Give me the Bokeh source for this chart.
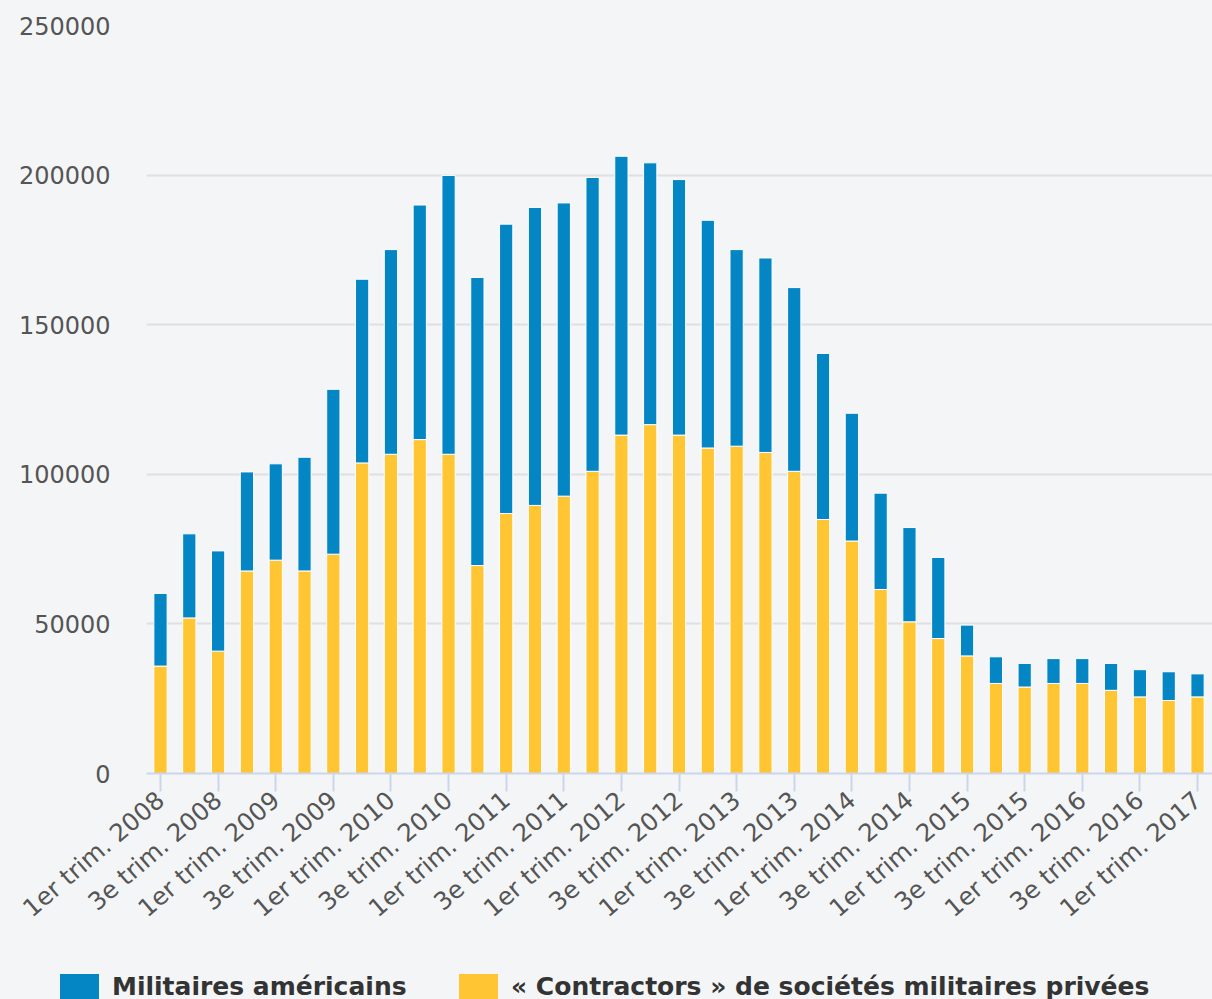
from bokeh.plotting import figure
from bokeh.layouts import column
from bokeh.models import (ColumnDataSource, Range1d, FixedTicker, NumeralTickFormatter, Div)
from bokeh.embed import file_html
from bokeh.resources import INLINE

quarters = []
for yr in range(2008, 2018):
    for q in ["1er", "2e", "3e", "4e"]:
        quarters.append(f"{q} trim. {yr}")
quarters = quarters[:37]

contractors = [35900, 52000, 40900, 67700, 71300, 67700, 73300, 103800, 106700, 111600,
               106700, 69500, 86900, 89600, 92700, 101000, 113100, 116600, 113100, 108800,
               109400, 107300, 101000, 84900, 77700, 61500, 50700, 45100, 39300, 30100,
               28900, 30100, 30100, 27800, 25600, 24400, 25600]

military = [24300, 28100, 33500, 33100, 32200, 38000, 55100, 61400, 68400, 78400,
            93200, 96300, 96700, 99600, 98000, 98200, 93200, 87500, 85400, 76100,
            65700, 65000, 61400, 55500, 42700, 32200, 31500, 27100, 10300, 8900,
            7900, 8300, 8300, 9000, 9100, 9600, 7700]

y_ticks = [0, 50000, 100000, 150000, 200000, 250000]

series_names = ["Militaires américains", "« Contractors » de sociétés militaires privées"]

BLUE = "#0485c4"
YELLOW = "#ffc533"
BG = "#f4f5f7"
FONT = "DejaVu Sans"
W = 1212

source = ColumnDataSource(dict(x=list(range(len(quarters))), label=quarters,
                               contractors=contractors, military=military))

p = figure(width=W, height=959, output_backend="svg", toolbar_location=None,
           x_range=Range1d(-0.486, 36.52), y_range=Range1d(0, 250000),
           min_border_left=146, min_border_right=0, min_border_top=25, min_border_bottom=186)
p.background_fill_color = BG
p.border_fill_color = BG
p.outline_line_color = None

r_con, r_mil = p.vbar_stack(["contractors", "military"], x="x", width=0.46, source=source,
                            color=[YELLOW, BLUE], line_color="white", line_width=1)

# Y axis
p.yaxis.ticker = FixedTicker(ticks=y_ticks)
p.yaxis.formatter = NumeralTickFormatter(format="0")
p.yaxis.axis_line_color = None
p.yaxis.major_tick_line_color = None
p.yaxis.major_tick_out = 0
p.yaxis.major_tick_in = 0
p.yaxis.minor_tick_line_color = None
p.yaxis.minor_tick_out = 0
p.yaxis.major_label_standoff = 36
p.yaxis.major_label_text_font = FONT
p.yaxis.major_label_text_font_size = "24px"
p.yaxis.major_label_text_color = "#555555"

p.ygrid.ticker = FixedTicker(ticks=y_ticks)
p.ygrid.grid_line_color = "#dfe0e3"
p.ygrid.grid_line_width = 2
p.xgrid.grid_line_color = None

# X axis
tick_pos = list(range(0, len(quarters), 2))
p.xaxis.ticker = FixedTicker(ticks=tick_pos)
p.xaxis.major_label_overrides = {i: quarters[i] for i in tick_pos}
p.xaxis.axis_line_color = "#ccd6eb"
p.xaxis.axis_line_width = 2
p.xaxis.major_tick_line_color = "#ccd6eb"
p.xaxis.major_tick_line_width = 2
p.xaxis.major_tick_out = 18
p.xaxis.major_tick_in = 0
p.xaxis.minor_tick_line_color = None
p.xaxis.major_label_orientation = 0.71
p.xaxis.major_label_standoff = 5
p.xaxis.major_label_text_font = FONT
p.xaxis.major_label_text_font_size = "24.5px"
p.xaxis.major_label_text_color = "#555555"

# Legend row (series colours + names)
legend_entries = [(BLUE, series_names[0], 60), (YELLOW, series_names[1], 459)]
parts = []
for col, name, left in legend_entries:
    parts.append(
        f'<span style="position:absolute;left:{left}px;top:15px;width:39px;height:25px;'
        f'background:{col};"></span>'
        f'<span style="position:absolute;left:{left + 52}px;top:13px;line-height:30px;'
        f'white-space:nowrap;">{name}</span>')
legend_html = (f'<div style="position:relative;width:{W}px;height:40px;background:{BG};'
               f'font-family:\'{FONT}\';font-weight:bold;font-size:25px;color:#333333;">'
               + "".join(parts) + '</div>')
legend_div = Div(text=legend_html, width=W, height=40,
                 styles={"background-color": BG, "margin": "0", "padding": "0"})

layout = column(p, legend_div, spacing=0, styles={"background-color": BG})

open("out.html", "w").write(file_html(layout, INLINE))
